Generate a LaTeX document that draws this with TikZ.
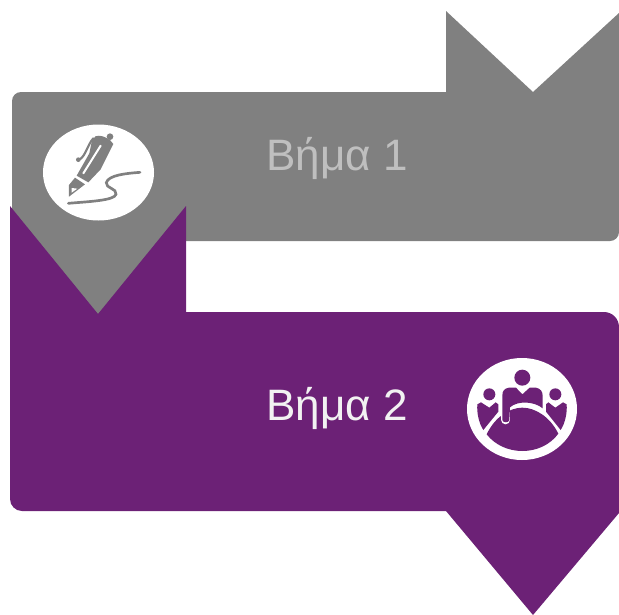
\documentclass[tikz,border=0pt]{standalone}
\usepackage{fontspec}
\setmainfont{Liberation Sans}
\definecolor{stepgray}{HTML}{808080}
\definecolor{steppurple}{HTML}{6C2176}
\definecolor{graytext}{HTML}{BFBFBF}
\definecolor{purpletext}{HTML}{F2F2F2}
\tikzset{
  steplabel/.style={inner sep=0pt, font=\fontsize{33}{36}\selectfont},
}
\begin{document}
\begin{tikzpicture}[x=0.75pt, y=-0.75pt]
\useasboundingbox (0,0) rectangle (619,615);

% GRAY BAND
\fill[stepgray] (446,11) -- (533,92) -- (619,13) -- (619,232) arc [start angle=0, end angle=90, radius=9] -- (186,241) -- (186,215) -- (98,318) -- (12,215) -- (12,101) arc [start angle=180, end angle=270, radius=9] -- (446,92) -- cycle;

% PURPLE BAND
\fill[steppurple] (10,206) -- (98,314) -- (186,206) -- (186,312) -- (604,312) arc [start angle=270, end angle=360, radius=15] -- (619,513) -- (533,615) -- (446,511) -- (22,511) arc [start angle=90, end angle=180, radius=12] -- cycle;

\node[steplabel, text=graytext] (label1) at (337,158.5) {Βήμα 1};
\node[steplabel, text=purpletext] (label2) at (337,408.5) {Βήμα 2};

% PEN ICON
\fill[white] (98.5,172.5) ellipse [x radius=55.5, y radius=48];
\begin{scope}[shift={(30,120)}, scale=1/3]
\fill[stepgray] (196,49) .. controls (210,44) and (225,50) .. (240,60) -- (250,72) -- (212,148) -- (175,187) -- (140,167) -- (178,100) -- (185,65) -- cycle;
\fill[stepgray] (240,50) circle [radius=10];
\fill[stepgray] (135,173) -- (165,193) -- (117,230) -- (117,195) -- cycle;
\fill[white] (125,204) -- (142,206) -- (125,218) -- cycle;
\draw[white, line width=1.5pt, line cap=round] (212,77) -- (160,160);
\draw[stepgray, line width=1.6pt, line cap=round] (190,55) .. controls (172,75) and (168,105) .. (150,118);
\fill[stepgray] (145,119) circle [radius=7];
\draw[stepgray, line width=2pt, line cap=round] (330,157) .. controls (290,160) and (235,165) .. (229,188) .. controls (226,205) and (262,205) .. (258,223) .. controls (254,242) and (170,245) .. (115,250);
\end{scope}

% TABLE ICON
\fill[white] (522,409) ellipse [x radius=55, y radius=51];
\begin{scope}[shift={(455,345)}, scale=1/3]
\fill[steppurple] (95,268) .. controls (120,215) and (165,188) .. (202,188) .. controls (240,188) and (285,215) .. (310,266) .. controls (285,300) and (245,318) .. (202,318) .. controls (160,318) and (120,300) .. (95,268) -- cycle;
\draw[white, line width=7pt, line cap=round] (152,185) -- (152,224);
\fill[steppurple] (202,98) circle [radius=24];
\fill[steppurple] (162,128) -- (183,128) -- (202,148) -- (224,128) -- (243,128) .. controls (256,130) and (263,140) .. (263,152) -- (263,190) .. controls (240,170) and (190,165) .. (165,187) -- (163,225) .. controls (162,234) and (143,234) .. (142,225) -- (142,152) .. controls (142,138) and (148,130) .. (162,128) -- cycle;
\fill[steppurple] (103,148) circle [radius=18];
\fill[steppurple] (301,148) circle [radius=18];
\fill[steppurple] (67,178) -- (78,172) -- (103,188) -- (122,172) -- (130,178) -- (130,200) -- (85,255) .. controls (72,235) and (65,205) .. (67,178) -- cycle;
\fill[steppurple] (335,178) -- (324,172) -- (301,188) -- (280,172) -- (273,178) -- (273,200) -- (317,255) .. controls (330,235) and (337,205) .. (335,178) -- cycle;
\end{scope}
\end{tikzpicture}
\end{document}
